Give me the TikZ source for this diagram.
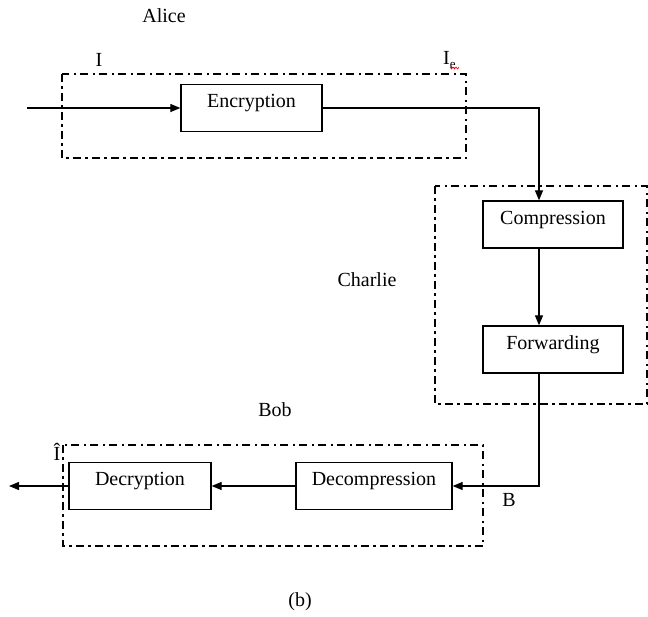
\documentclass[tikz,border=0pt]{standalone}
\usepackage{fontspec}
\setmainfont{Liberation Serif}
\usetikzlibrary{arrows.meta}
\begin{document}
\begin{tikzpicture}[x=1pt,y=-1pt,
  every node/.style={font=\fontsize{20}{24}\selectfont},
  blockbox/.style={draw, line width=1.3pt, inner sep=0pt, text height=23pt, text depth=24pt, minimum height=47pt},
  groupbox/.style={draw, line width=1.6pt, dash pattern=on 8pt off 4pt on 2.5pt off 4.5pt},
  conn/.style={line width=1.2pt},
  arr/.style={conn, -{Triangle[length=10pt,width=8pt]}},
  lbl/.style={inner sep=0pt}]
\useasboundingbox (0,0) rectangle (648,616);
% group frames
\draw[groupbox] (62,74) rectangle (466,158);
\draw[groupbox] (435,186) rectangle (647,404);
\draw[groupbox] (63,445) rectangle (483,546);
% blocks
\node[blockbox, minimum width=141pt] (enc) at (251.5,108) {Encryption};
\node[blockbox, minimum width=140pt] (comp) at (553,224.5) {Compression};
\node[blockbox, minimum width=140pt] (fwd) at (553,349.5) {Forwarding};
\node[blockbox, minimum width=156pt] (dec) at (374,486) {Decompression};
\node[blockbox, minimum width=142pt] (decr) at (140,486) {Decryption};
% labels
\node[lbl] (alice) at (164,16) {Alice};
\node[lbl] (charlie) at (367,280) {Charlie};
\node[lbl] (bob) at (275,410) {Bob};
\node[lbl] (lI) at (99,60) {I};
\node[lbl, anchor=west] (lIe) at (443,60) {I\raisebox{-0.35ex}{\fontsize{13}{13}\selectfont e}};
\draw[red, line width=0.6pt] (450,67) -- (451.5,69) -- (453,67) -- (454.5,69) -- (456,67) -- (457.5,69) -- (459,67);
\node[lbl] (lIhat) at (57,452) {\^{I}};
\node[lbl] (lB) at (509,500) {B};
\node[lbl] (cap) at (300,602) {(b)};
% connectors
\coordinate (in) at (27,108);
\coordinate (out) at (9,486);
\draw[arr] (in) -- (enc.west);
\draw[arr] (enc.east) -| ([xshift=-14pt]comp.north);
\draw[arr] ([xshift=-14pt]comp.south) -- ([xshift=-14pt]fwd.north);
\draw[arr] ([xshift=-14pt]fwd.south) |- (dec.east);
\draw[arr] (dec.west) -- (decr.east);
\draw[arr] (decr.west) -- (out);
\end{tikzpicture}
\end{document}
